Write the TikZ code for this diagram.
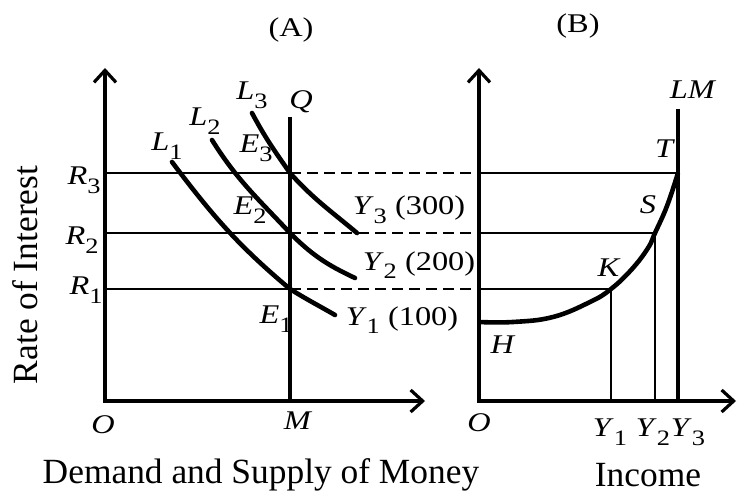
\documentclass[tikz,border=0pt]{standalone}
\usepackage{fontspec}
\setmainfont{Liberation Serif}
\newfontfamily\labfont[FakeStretch=1.2]{Liberation Serif}
\usetikzlibrary{arrows.meta}
\newcommand{\lsub}[2]{\textit{#1}\raisebox{-0.32em}{\fontsize{11}{12}\selectfont #2}}
\tikzset{
  axis/.style={line width=1.8pt, line join=miter,
    {Straight Barb[length=6pt,width=11pt,line width=1.6pt]}-{Straight Barb[length=6pt,width=11pt,line width=1.6pt]}},
  qline/.style={line width=1.8pt},
  lmline/.style={line width=2.1pt},
  curve/.style={line width=2.3pt, line cap=round},
  guide/.style={line width=0.9pt},
  dashguide/.style={guide, dash pattern=on 5.5pt off 3pt},
  lab/.style={font=\labfont\fontsize{13.5}{15}\selectfont, inner sep=0pt},
  title/.style={font=\fontsize{17.7}{21}\selectfont, inner sep=0pt}
}
\begin{document}
\begin{tikzpicture}[x=0.5pt, y=0.5pt]
  \useasboundingbox (0,0) rectangle (739,493);
  % panel A
  \coordinate (OA) at (105,92);
  \coordinate (ytopA) at (105,425);
  \coordinate (xendA) at (425,92);
  \coordinate (Qtop) at (290,376);
  \coordinate (Mbase) at (290,92);
  \coordinate (E3) at (290,320);
  \coordinate (E2) at (290,260);
  \coordinate (E1) at (290,204);
  \coordinate (A3) at (105,320);
  \coordinate (A2) at (105,260);
  \coordinate (A1) at (105,204);
  % panel B
  \coordinate (OB) at (479,92);
  \coordinate (ytopB) at (479,425);
  \coordinate (xendB) at (736,92);
  \coordinate (B3) at (479,320);
  \coordinate (B2) at (479,260);
  \coordinate (B1) at (479,204);
  \coordinate (H) at (479,171);
  \coordinate (K) at (611,204);
  \coordinate (S) at (655,260);
  \coordinate (T) at (678,320);
  \coordinate (LMtop) at (678,384);
  \coordinate (Y1base) at (611,92);
  \coordinate (Y2base) at (655,92);
  \coordinate (Y3base) at (678,92);

  % rate levels
  \draw[guide] (A3) -- (E3);
  \draw[guide] (A2) -- (E2);
  \draw[guide] (A1) -- (E1);
  \draw[dashguide] (E3) -- (B3);
  \draw[dashguide] (E2) -- (B2);
  \draw[dashguide] (E1) -- (B1);
  \draw[guide] (B3) -- (T);
  \draw[guide] (B2) -- (S);
  \draw[guide] (B1) -- (K);
  \draw[guide] (K) -- (Y1base);
  \draw[guide] (S) -- (Y2base);

  % axes
  \draw[axis] (ytopA) -- (OA) -- (xendA);
  \draw[axis] (ytopB) -- (OB) -- (xendB);
  \draw[qline] (Qtop) -- (Mbase);
  \draw[lmline] (LMtop) -- (Y3base);

  % liquidity preference curves
  \draw[curve] (172,331) to[out=-53,in=140] (E1) to[out=-32,in=150] (335,178);
  \draw[curve] (212,353) to[out=-58,in=133] (E2) to[out=-45,in=155] (355,215);
  \draw[curve] (252,380) to[out=-62,in=125] (E3) to[out=-48,in=140] (357,260);

  % LM curve
  \draw[curve, line cap=butt] plot[smooth, tension=0.7] coordinates
    {(H) (513,171) (553,176) (590,191) (K) (632,224) (648,245) (S) (667,287) (T)};

  % labels
  \node[lab] (lblA) at (291,463) {(A)};
  \node[lab] (lblB) at (578,467) {(B)};
  \node[lab] (lblL1) at (167,347) {\lsub{L}{1}};
  \node[lab] (lblL2) at (205,372) {\lsub{L}{2}};
  \node[lab] (lblL3) at (252,398) {\lsub{L}{3}};
  \node[lab] (lblQ) at (301,391) {\textit{Q}};
  \node[lab] (lblE3) at (256,345) {\lsub{E}{3}};
  \node[lab] (lblE2) at (250,283) {\lsub{E}{2}};
  \node[lab] (lblE1) at (276,174) {\lsub{E}{1}};
  \node[lab] (lblR3) at (84,313) {\lsub{R}{3}};
  \node[lab] (lblR2) at (82,253) {\lsub{R}{2}};
  \node[lab] (lblR1) at (86,203) {\lsub{R}{1}};
  \node[lab] (lblOA) at (103,68) {\textit{O}};
  \node[lab] (lblM) at (298,72) {\textit{M}};
  \node[lab] (lblY3i) at (409,283) {\lsub{Y}{3} (300)};
  \node[lab] (lblY2i) at (419,228) {\lsub{Y}{2} (200)};
  \node[lab] (lblY1i) at (402,173) {\lsub{Y}{1} (100)};
  \node[lab] (lblOB) at (479,70) {\textit{O}};
  \node[lab] (lblLM) at (693,403) {\textit{LM}};
  \node[lab] (lblT) at (665,344) {\textit{T}};
  \node[lab] (lblS) at (648,288) {\textit{S}};
  \node[lab] (lblK) at (609,225) {\textit{K}};
  \node[lab] (lblH) at (503,148) {\textit{H}};
  \node[lab] (lblY1) at (610,61) {\lsub{Y}{1}};
  \node[lab] (lblY2) at (653,61) {\lsub{Y}{2}};
  \node[lab] (lblY3) at (688,61) {\lsub{Y}{3}};

  % axis titles
  \node[title, rotate=90] (rate) at (25,218) {Rate of Interest};
  \node[title, anchor=base] (money) at (261,10) {Demand and Supply of Money};
  \node[title, anchor=base] (income) at (648,7) {Income};
\end{tikzpicture}
\end{document}
